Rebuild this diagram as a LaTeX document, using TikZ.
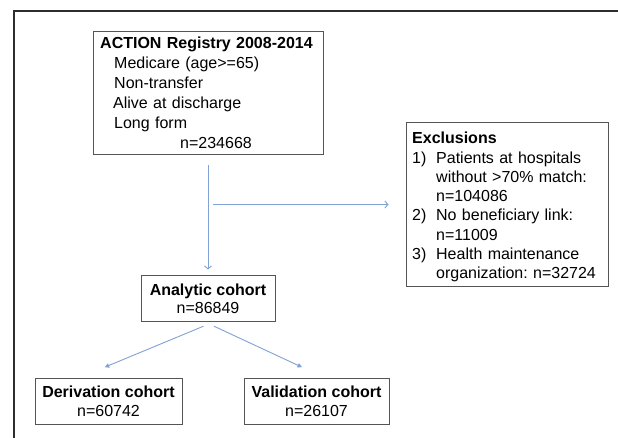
\documentclass[tikz,border=0pt]{standalone}
\usepackage{fontspec}
\setmainfont{Liberation Sans}
\usetikzlibrary{arrows.meta,calc}
\definecolor{arrowblue}{RGB}{128,162,212}
\definecolor{boxgray}{RGB}{85,85,85}
\definecolor{framegray}{RGB}{45,45,45}
\frenchspacing
\begin{document}
\begin{tikzpicture}[x=1pt,y=-1pt,
  box/.style={draw=boxgray, line width=1pt, rectangle, inner sep=0pt},
  txt/.style={inner sep=0pt, anchor=north west, align=left},
  flow/.style={draw=arrowblue, line width=0.9pt},
  barb/.style={-{Straight Barb[length=3pt,width=7pt]}},
  tri/.style={-{Triangle[length=4.5pt,width=4.5pt]}}
]
\useasboundingbox (0,0) rectangle (618,438);
\fill[white] (0,0) rectangle (618,438);
\draw[framegray, line width=2pt] (14,438) -- (14,11) -- (618,11);

% registry box
\node[box, minimum width=230pt, minimum height=123pt] (reg) at (208,93.5) {};
\node[txt, text width=216pt, font=\fontsize{16}{20}\selectfont\frenchspacing] (regtxt) at (100,34.5)
 {\strut\textbf{ACTION Registry 2008-2014}\\
  \hspace*{14pt}Medicare (age>=65)\\
  \hspace*{14pt}Non-transfer\\
  \hspace*{13pt}Alive at discharge\\
  \hspace*{14pt}Long form\\
  \hspace*{80pt}n=234668};

% exclusions box
\node[box, minimum width=202pt, minimum height=163pt] (excl) at (507,204.5) {};
\node[txt, text width=190pt, font=\fontsize{16}{19.3}\selectfont\frenchspacing] (excltxt) at (412,130)
 {\strut\textbf{Exclusions}\\
  \makebox[24pt][l]{1)}Patients at hospitals\\
  \hspace*{24pt}without >70\% match:\\
  \hspace*{24pt}n=104086\\
  \makebox[24pt][l]{2)}No beneficiary link:\\
  \hspace*{24pt}n=11009\\
  \makebox[24pt][l]{3)}Health maintenance\\
  \hspace*{24pt}organization: n=32724};

% cohort boxes
\node[box, minimum width=134pt, minimum height=46pt, align=center,
  font=\fontsize{16}{18}\selectfont] (ana) at (208,298.7)
  {\textbf{Analytic cohort}\\n=86849};
\node[box, minimum width=147pt, minimum height=46pt, align=center,
  font=\fontsize{16}{19}\selectfont] (der) at (108.5,401)
  {\textbf{Derivation cohort}\\n=60742};
\node[box, minimum width=145pt, minimum height=46pt, align=center,
  font=\fontsize{16}{19}\selectfont] (val) at (316.5,401)
  {\textbf{Validation cohort}\\n=26107};

% connectors
\draw[flow, barb, shorten <=10pt, shorten >=5.7pt] (reg.south) -- (ana.north);
\coordinate (hstart) at (213,204.5);
\draw[flow, barb, shorten >=17pt] (hstart) -- (excl.west);
\draw[flow, tri] ($(ana.south)+(-4.5,4)$) -- ($(der.north)+(-3.8,-10.3)$);
\draw[flow, tri] ($(ana.south)+(6,4)$) -- ($(val.north)+(-14.5,-10.3)$);
\end{tikzpicture}
\end{document}
